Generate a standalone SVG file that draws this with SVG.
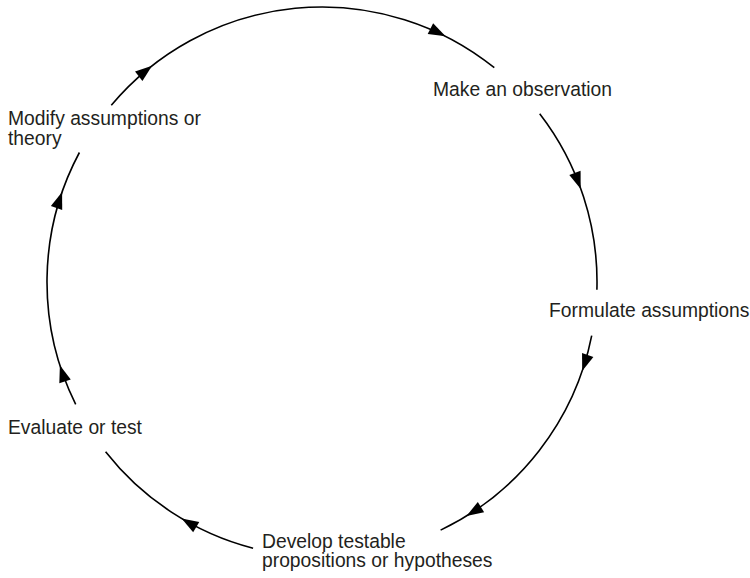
<svg xmlns="http://www.w3.org/2000/svg" xmlns:xlink="http://www.w3.org/1999/xlink" width="750" height="578" viewBox="0 0 750 578">
  <style>
    .lbl { font-family: "Liberation Sans", Arial, sans-serif; font-size: 19.3px; fill: #231f20; }
    .arc { fill: none; stroke: #000; stroke-width: 1.6; }
    .ah { fill: #000; }
  </style>
  <defs>
    <path id="head" d="M0,0 L-17,-6 L-17,6 Z"/>
  </defs>
  <rect width="750" height="578" fill="#fff"/>
  <g id="connectors">
    <path class="arc" d="M111.3,105.2 A275,275 0 0 1 494.3,67.7"/>
    <path class="arc" d="M539.7,113.8 A275,275 0 0 1 596.9,289.7"/>
    <path class="arc" d="M591.7,335.7 A275,275 0 0 1 440.6,530.1"/>
    <path class="arc" d="M253.1,548.2 A275,275 0 0 1 105.6,451.7"/>
    <path class="arc" d="M75.7,404.3 A275,275 0 0 1 79.4,152.5"/>
    <use class="ah" xlink:href="#head" href="#head" transform="translate(152.1,65.8) rotate(321.85)"/>
    <use class="ah" xlink:href="#head" href="#head" transform="translate(445.6,36.3) rotate(26.7)"/>
    <use class="ah" xlink:href="#head" href="#head" transform="translate(580.7,188.9) rotate(70.2)"/>
    <use class="ah" xlink:href="#head" href="#head" transform="translate(582.2,371.1) rotate(108.9)"/>
    <use class="ah" xlink:href="#head" href="#head" transform="translate(466.5,516.0) rotate(148.3)"/>
    <use class="ah" xlink:href="#head" href="#head" transform="translate(181.6,518.5) rotate(210.7)"/>
    <use class="ah" xlink:href="#head" href="#head" transform="translate(59.9,365.2) rotate(252.4)"/>
    <use class="ah" xlink:href="#head" href="#head" transform="translate(62.1,192.0) rotate(289.1)"/>
  </g>
  <g id="node-observation">
    <text class="lbl" x="433" y="96">Make an observation</text>
  </g>
  <g id="node-assumptions">
    <text class="lbl" x="549" y="317">Formulate assumptions</text>
  </g>
  <g id="node-hypotheses">
    <text class="lbl" x="262" y="548">Develop testable</text>
    <text class="lbl" x="262" y="567">propositions or hypotheses</text>
  </g>
  <g id="node-evaluate">
    <text class="lbl" x="8" y="434">Evaluate or test</text>
  </g>
  <g id="node-modify">
    <text class="lbl" x="8" y="125">Modify assumptions or</text>
    <text class="lbl" x="8" y="145">theory</text>
  </g>
</svg>
